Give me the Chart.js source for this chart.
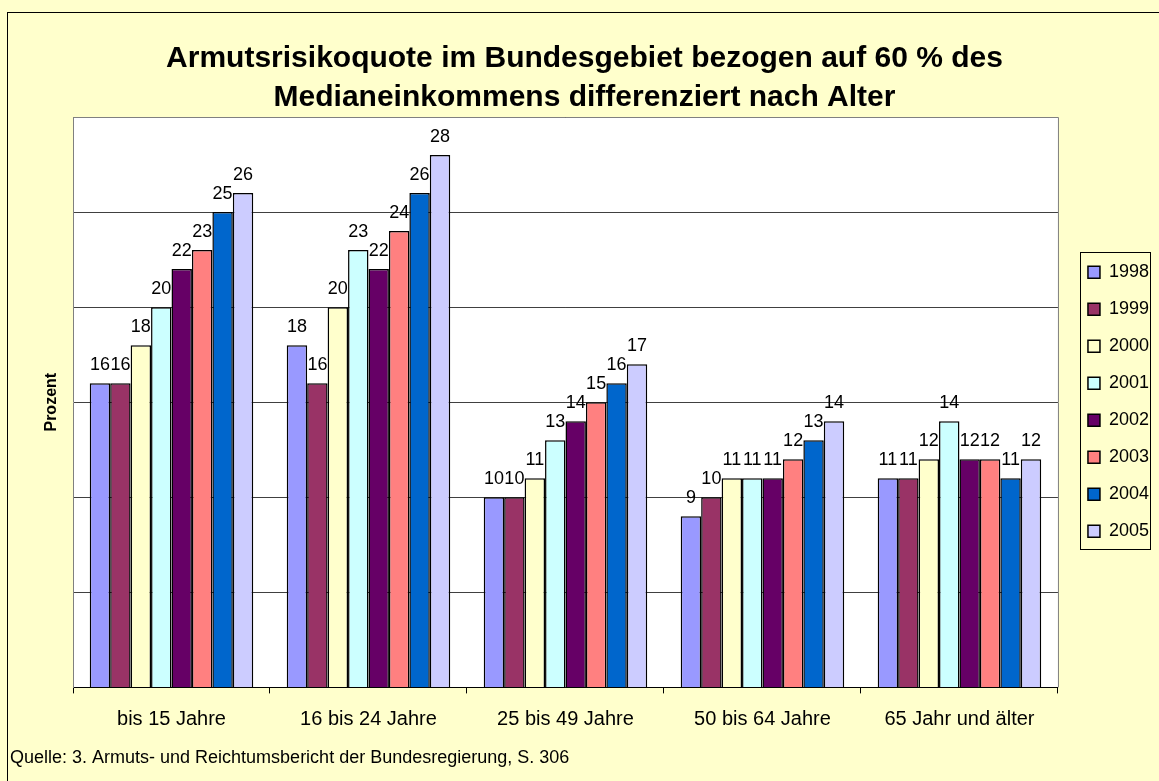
<!DOCTYPE html>
<html>
<head>
<meta charset="utf-8">
<script src="https://cdn.jsdelivr.net/npm/chart.js@4/dist/chart.umd.min.js"></script>
<style>
  html, body { margin: 0; padding: 0; background: #FFFFCC; }
  #wrap { width: 1159px; height: 781px; }
</style>
</head>
<body>
<div id="wrap"><canvas id="myChart"></canvas></div>
<script>
const categories = ['bis 15 Jahre', '16 bis 24 Jahre', '25 bis 49 Jahre', '50 bis 64 Jahre', '65 Jahr und älter']
const years = ['1998', '1999', '2000', '2001', '2002', '2003', '2004', '2005']
const values1998 = [16, 18, 10, 9, 11]
const values1999 = [16, 16, 10, 10, 11]
const values2000 = [18, 20, 11, 11, 12]
const values2001 = [20, 23, 13, 11, 14]
const values2002 = [22, 22, 14, 11, 12]
const values2003 = [23, 24, 15, 12, 12]
const values2004 = [25, 26, 16, 13, 11]
const values2005 = [26, 28, 17, 14, 12]
const barColors = ['#9999FF', '#993366', '#FFFFCC', '#CCFFFF', '#660066', '#FF8080', '#0066CC', '#CCCCFF']

const allValues = [values1998, values1999, values2000, values2001, values2002, values2003, values2004, values2005]
const fontFamily = '"Liberation Sans", Arial, sans-serif'

// background, plot area, frame, bar value labels, legend border
const decorations = {
    id: 'decorations',
    beforeDraw(chart) {
        const ctx = chart.ctx
        const a = chart.chartArea
        ctx.save()
        ctx.fillStyle = '#FFFFCC'
        ctx.fillRect(0, 0, chart.width, chart.height)
        ctx.fillStyle = '#ffffff'
        ctx.fillRect(a.left, a.top, a.right - a.left, a.bottom - a.top)
        ctx.strokeStyle = '#000000'
        ctx.lineWidth = 1
        ctx.strokeRect(7.5, 12.5, chart.width + 20, chart.height + 20)
        ctx.restore()
    },
    afterDatasetsDraw(chart) {
        const ctx = chart.ctx
        const a = chart.chartArea
        ctx.save()
        ctx.strokeStyle = '#808080'
        ctx.lineWidth = 1
        ctx.beginPath()
        ctx.moveTo(a.left, a.top + 0.5)
        ctx.lineTo(a.right + 0.5, a.top + 0.5)
        ctx.lineTo(a.right + 0.5, a.bottom)
        ctx.stroke()
        ctx.fillStyle = '#000000'
        ctx.font = '18px ' + fontFamily
        ctx.textAlign = 'center'
        ctx.textBaseline = 'bottom'
        chart.data.datasets.forEach((dataset, i) => {
            const meta = chart.getDatasetMeta(i)
            meta.data.forEach((bar, j) => {
                ctx.fillText(dataset.data[j], bar.x, bar.y - 9)
            })
        })
        ctx.restore()
    },
    afterDraw(chart) {
        const lg = chart.legend
        if (!lg || !lg.legendHitBoxes.length) return
        const boxes = lg.legendHitBoxes
        const ctx = chart.ctx
        const left = boxes[0].left - 8
        const top = boxes[0].top - 11
        const last = boxes[boxes.length - 1]
        ctx.save()
        ctx.strokeStyle = '#000000'
        ctx.lineWidth = 1
        ctx.strokeRect(Math.round(left) + 0.5, Math.round(top) + 0.5, 70, Math.round(last.top + last.height + 9 - top))
        ctx.restore()
    }
}

new Chart(document.getElementById('myChart'), {
    type: 'bar',
    data: {
        labels: categories,
        datasets: years.map((year, i) => ({
            label: year,
            data: allValues[i],
            backgroundColor: barColors[i],
            borderColor: '#000000',
            borderWidth: 1.5
        }))
    },
    options: {
        responsive: true,
        maintainAspectRatio: false,
        animation: false,
        layout: {
            padding: { top: 0, left: 10, right: 0, bottom: 12 }
        },
        datasets: {
            bar: {
                categoryPercentage: 0.83,
                barPercentage: 1
            }
        },
        plugins: {
            tooltip: { enabled: false },
            title: {
                display: true,
                text: ['Armutsrisikoquote im Bundesgebiet bezogen auf 60 % des', 'Medianeinkommens differenziert nach Alter'],
                color: '#000000',
                font: { family: fontFamily, size: 30, weight: 'bold', lineHeight: 1.3 },
                padding: { top: 39, bottom: 0 }
            },
            subtitle: {
                display: true,
                position: 'bottom',
                align: 'start',
                text: 'Quelle: 3. Armuts- und Reichtumsbericht der Bundesregierung, S. 306',
                color: '#000000',
                font: { family: fontFamily, size: 18 },
                padding: { top: 2, bottom: 0 }
            },
            legend: {
                position: 'right',
                title: {
                    display: true,
                    text: ' ',
                    font: { size: 12 },
                    padding: 10
                },
                labels: {
                    color: '#000000',
                    font: { family: fontFamily, size: 18 },
                    boxWidth: 12,
                    boxHeight: 12,
                    padding: 19
                }
            }
        },
        scales: {
            x: {
                grid: {
                    drawOnChartArea: false,
                    drawTicks: true,
                    tickLength: 6,
                    color: '#000000'
                },
                border: { color: '#000000', width: 1 },
                ticks: {
                    color: '#000000',
                    font: { family: fontFamily, size: 20 },
                    padding: 14
                }
            },
            y: {
                min: 0,
                max: 30,
                ticks: { display: false, stepSize: 5 },
                grid: { color: '#404040', drawTicks: false },
                border: { color: '#808080', width: 1 },
                title: {
                    display: true,
                    text: 'Prozent',
                    color: '#000000',
                    font: { family: fontFamily, size: 16, weight: 'bold' },
                    padding: { top: 32, bottom: 0 }
                },
                afterFit(scale) {
                    scale.width = 63
                }
            },
            // empty right-hand axis, only used as a gap before the legend
            gap: {
                type: 'linear',
                position: 'right',
                min: 0,
                max: 30,
                grid: { display: false, drawTicks: false },
                border: { display: false },
                ticks: { display: false },
                afterFit(scale) {
                    scale.width = 11
                }
            }
        }
    },
    plugins: [decorations]
})
</script>
</body>
</html>
